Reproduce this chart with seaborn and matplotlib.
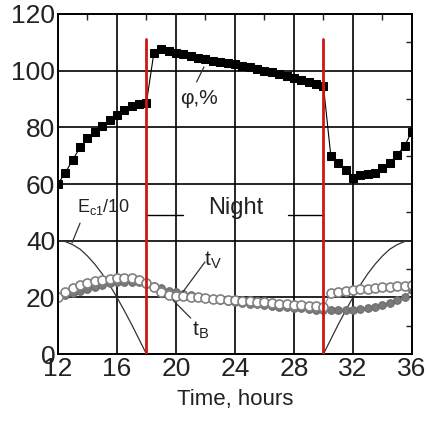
import numpy as np
import pandas as pd
import matplotlib
matplotlib.use("Agg")
import matplotlib.pyplot as plt
import seaborn as sns

sns.set_style("white")
plt.rcParams['font.family'] = ['Liberation Sans', 'DejaVu Sans']
plt.rcParams['mathtext.fontset'] = 'custom'
plt.rcParams['mathtext.rm'] = 'Liberation Sans'

# relative humidity phi, % (every 0.5 h)
t_phi = [12, 12.5, 13, 13.5, 14, 14.5, 15, 15.5, 16, 16.5, 17, 17.5, 18,
         18.5, 19, 19.5, 20, 20.5, 21, 21.5, 22, 22.5, 23, 23.5, 24, 24.5,
         25, 25.5, 26, 26.5, 27, 27.5, 28, 28.5, 29, 29.5, 30,
         30.5, 31, 31.5, 32, 32.5, 33, 33.5, 34, 34.5, 35, 35.5, 36]
phi = [60, 64, 68.5, 72.9, 76.1, 78.5, 80.5, 82.6, 84.4, 86.1, 87.5, 88.1, 88.7,
       106.1, 107.5, 107, 106.3, 105.7, 105.1, 104.5, 104, 103.5, 103, 102.6, 102.2, 101.7,
       101.2, 100.6, 100, 99.4, 98.8, 98.1, 97.4, 96.7, 96, 95.3, 94.6,
       69.9, 67.3, 65.1, 62.2, 63.2, 63.6, 64, 65.5, 67.5, 70.2, 73.5, 78.5]

# temperatures tV (open) and tB (filled)
t_temp = t_phi
t_v = [20.2, 22, 23.2, 24.2, 25, 25.6, 26.1, 26.5, 26.8, 26.9, 26.8, 26.2, 25.2,
       23.5, 22, 21, 20.5, 20.4, 20.3, 20.1, 19.9, 19.6, 19.4, 19.2, 19, 18.8,
       18.6, 18.4, 18.2, 18, 17.8, 17.6, 17.4, 17.2, 17, 16.8, 16.6,
       21.5, 22, 22.3, 22.6, 22.9, 23.1, 23.3, 23.5, 23.7, 23.9, 24.1, 24.3]
t_b = [20, 20.8, 21.6, 22.4, 23.1, 23.8, 24.4, 24.9, 25.3, 25.5, 25.5, 25.3, 24.8,
       24, 23.2, 22.4, 21.8, 21.2, 20.7, 20.2, 19.8, 19.4, 19, 18.7, 18.4, 18.1,
       17.8, 17.5, 17.2, 17, 16.7, 16.5, 16.3, 16.1, 15.9, 15.7, 15.5,
       15.4, 15.4, 15.4, 15.5, 15.8, 16.2, 16.7, 17.3, 18, 19, 20.2, 22.6]

# irradiance Ec1/10 (every 0.5 h during the day)
t_e = [12, 12.5, 13, 13.5, 14, 14.5, 15, 15.5, 16, 16.5, 17, 17.5, 18,
       30, 30.5, 31, 31.5, 32, 32.5, 33, 33.5, 34, 34.5, 35, 35.5, 36]
e_c1 = [40, 39.7, 38.6, 37, 34.6, 31.7, 28.3, 24.4, 20, 15.3, 10.4, 5.2, 0,
        0, 5.2, 10.4, 15.3, 20, 24.4, 28.3, 31.7, 34.6, 37, 38.6, 39.7, 40]

night_x = [18, 30]

df_phi = pd.DataFrame({"t": t_phi, "v": phi})
df_tv = pd.DataFrame({"t": t_temp, "v": t_v})
df_tb = pd.DataFrame({"t": t_temp, "v": t_b})
df_e = pd.DataFrame({"t": t_e, "v": e_c1})

fig = plt.figure(figsize=(4.26, 4.23), dpi=100)
ax = fig.add_axes([0.136, 0.163, 0.831, 0.804])

ax.set_xlim(12, 36)
ax.set_ylim(0, 120)
ax.set_xticks([12, 16, 20, 24, 28, 32, 36])
ax.set_yticks([0, 20, 40, 60, 80, 100, 120])
ax.set_xticks(np.arange(12, 37, 2), minor=True)
ax.set_yticks(np.arange(0, 121, 10), minor=True)
ax.grid(True, which='major', color='black', linewidth=1.2)
ax.tick_params(which='both', direction='in', top=True, right=True, colors='#222222')
ax.tick_params(which='major', length=0, labelsize=19, pad=2)
ax.tick_params(which='minor', length=4, width=1)
for s in ax.spines.values():
    s.set_color('black')
    s.set_linewidth(1.4)

sns.lineplot(data=df_e, x="t", y="v", ax=ax, color='#333333', linewidth=0.9)
sns.lineplot(data=df_tb, x="t", y="v", ax=ax, color='#777777', linewidth=0.8,
             marker='o', markersize=5.5, markerfacecolor='#7a7a7a',
             markeredgecolor='#6a6a6a')
sns.lineplot(data=df_tv, x="t", y="v", ax=ax, color='#888888', linewidth=0.8,
             marker='o', markersize=6.5, markerfacecolor='white',
             markeredgecolor='#808080', markeredgewidth=1.2)
sns.lineplot(data=df_phi, x="t", y="v", ax=ax, color='black', linewidth=0.8,
             marker='s', markersize=5.5, markerfacecolor='black',
             markeredgecolor='black')

for xn in night_x:
    ax.plot([xn, xn], [0, 111], color='#d01515', linewidth=2, zorder=5)

ax.plot([18, 20.5], [49, 49], color='black', linewidth=1)
ax.plot([27.6, 30], [49, 49], color='black', linewidth=1)
ax.text(24.05, 51.5, "Night", fontsize=17, ha='center', va='center', color='#222222')

ax.text(20.3, 90, "φ,%", fontsize=15, ha='left', va='center', color='#222222')
ax.plot([21.4, 21.9], [96, 101.3], color='#333333', linewidth=0.9)

ax.text(13.3, 52, r"E$_\mathregular{c1}$/10", fontsize=13, ha='left', va='center', color='#222222')
ax.plot([13.5, 12.95], [46.2, 39.2], color='#333333', linewidth=0.9)

ax.text(21.9, 33, r"t$_\mathregular{V}$", fontsize=15, ha='left', va='center', color='#222222')
ax.plot([21.97, 20.47], [32.5, 21.9], color='#333333', linewidth=0.9)

ax.text(21.1, 8.5, r"t$_\mathregular{B}$", fontsize=15, ha='left', va='center', color='#222222')
ax.plot([21.0, 19.8], [12.7, 19], color='#333333', linewidth=0.9)

ax.set_xlabel("Time, hours", fontsize=16, color='#222222', labelpad=6)
ax.set_ylabel("")

plt.savefig("out.png", dpi=100)
plt.close()
